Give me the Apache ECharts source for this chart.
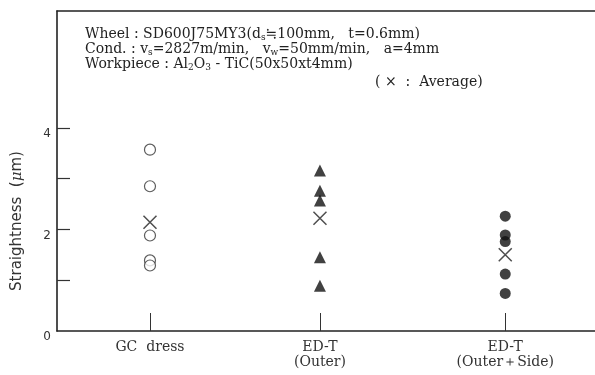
<!DOCTYPE html>
<html>
<head>
<meta charset="utf-8">
<script src="https://cdn.jsdelivr.net/npm/echarts@6/dist/echarts.min.js"></script>
<style>
html, body { margin: 0; padding: 0; background: #fff; }
#chart { width: 595px; height: 375px; }
</style>
</head>
<body>
<div id="chart"></div>
<script>
// dressing methods (x axis), placed a bit unevenly like the original figure
var categories = ['GC  dress', 'ED-T\n(Outer)', 'ED-T\n(Outer＋Side)'];
var catX = [1, 2, 3.09];

// straightness values (um)
var gcDress = [3.57, 2.85, 1.88, 1.39, 1.29];
var edtOuter = [3.16, 2.76, 2.57, 1.45, 0.89];
var edtOuterSide = [2.26, 1.89, 1.76, 1.12, 0.74];
var averages = [2.14, 2.22, 1.50];

var yTicks = [1, 2, 3, 4];
var yLabels = [0, 2, 4];

function pts(idx, arr) {
  return arr.map(function (v) { return [catX[idx], v]; });
}

var serif = '"DejaVu Serif", "Liberation Serif", serif';
var chart = echarts.init(document.getElementById('chart'));

var option = {
  animation: false,
  grid: { left: 57, right: 0, top: 11, bottom: 44 },
  xAxis: [
    {
      type: 'value',
      min: 0.453,
      max: 3.618,
      splitLine: { show: false },
      axisLine: { lineStyle: { color: '#222', width: 1.6 } },
      axisTick: {
        show: true, inside: true, length: 18, customValues: catX,
        lineStyle: { color: '#333', width: 1 }
      },
      axisLabel: {
        customValues: catX,
        margin: 9,
        color: '#333',
        fontFamily: serif,
        fontSize: 14,
        lineHeight: 15,
        formatter: function (v) {
          for (var i = 0; i < catX.length; i++) {
            if (Math.abs(catX[i] - v) < 1e-6) return categories[i];
          }
          return '';
        }
      }
    },
    {
      type: 'value',
      position: 'top',
      min: 0.453,
      max: 3.618,
      splitLine: { show: false },
      axisLine: { show: true, lineStyle: { color: '#222', width: 1.6 } },
      axisTick: { show: false },
      axisLabel: { show: false }
    }
  ],
  yAxis: {
    type: 'value',
    min: 0,
    max: 6.3,
    splitLine: { show: false },
    axisLine: { show: true, lineStyle: { color: '#222', width: 1.6 } },
    axisTick: {
      show: true, inside: true, length: 13, customValues: yTicks,
      lineStyle: { color: '#333', width: 1.2 }
    },
    axisLabel: {
      customValues: yLabels,
      margin: 6,
      color: '#333',
      fontFamily: '"DejaVu Sans", sans-serif',
      fontSize: 12,
      verticalAlign: 'top'
    }
  },
  graphic: [
    {
      type: 'text',
      x: 17,
      y: 221,
      rotation: Math.PI / 2,
      style: {
        text: 'Straightness  ({i|μ}m)',
        x: 0, y: 0,
        align: 'center',
        verticalAlign: 'middle',
        font: '15px "DejaVu Sans", sans-serif',
        fill: '#333',
        rich: { i: { fontStyle: 'italic', fontSize: 15, fontFamily: '"DejaVu Serif", serif' } }
      }
    },
    {
      type: 'text',
      left: 85,
      top: 27,
      style: {
        text: 'Wheel : SD600J75MY3(d{sub|s}≒100mm,   t=0.6mm)\n' +
              'Cond. : v{sub|s}=2827m/min,   v{sub|w}=50mm/min,   a=4mm\n' +
              'Workpiece : Al{sub|2}O{sub|3} - TiC(50x50xt4mm)',
        font: '14px ' + serif,
        lineHeight: 15,
        fill: '#222',
        rich: {
          sub: { fontSize: 9, fontFamily: serif, verticalAlign: 'bottom', lineHeight: 15 }
        }
      }
    },
    {
      type: 'text',
      left: 375,
      top: 75,
      style: {
        text: '( ×  :  Average)',
        font: '14px ' + serif,
        fill: '#222'
      }
    }
  ],
  series: [
    {
      name: 'GC dress',
      type: 'scatter',
      symbol: 'circle',
      symbolSize: 11,
      itemStyle: { color: '#fff', borderColor: '#333', borderWidth: 1.2 },
      data: pts(0, gcDress),
      z: 3
    },
    {
      name: 'ED-T (Outer)',
      type: 'scatter',
      symbol: 'triangle',
      symbolSize: 12,
      itemStyle: { color: '#111' },
      data: pts(1, edtOuter)
    },
    {
      name: 'ED-T (Outer+Side)',
      type: 'scatter',
      symbol: 'circle',
      symbolSize: 11,
      itemStyle: { color: '#111' },
      data: pts(2, edtOuterSide)
    },
    {
      name: 'Average',
      type: 'scatter',
      symbol: 'path://M0,0L10,10M10,0L0,10',
      symbolSize: 13,
      itemStyle: { color: 'none', borderColor: '#222', borderWidth: 1.5 },
      data: averages.map(function (v, i) { return [catX[i], v]; })
    }
  ]
};
chart.setOption(option);
</script>
</body>
</html>
